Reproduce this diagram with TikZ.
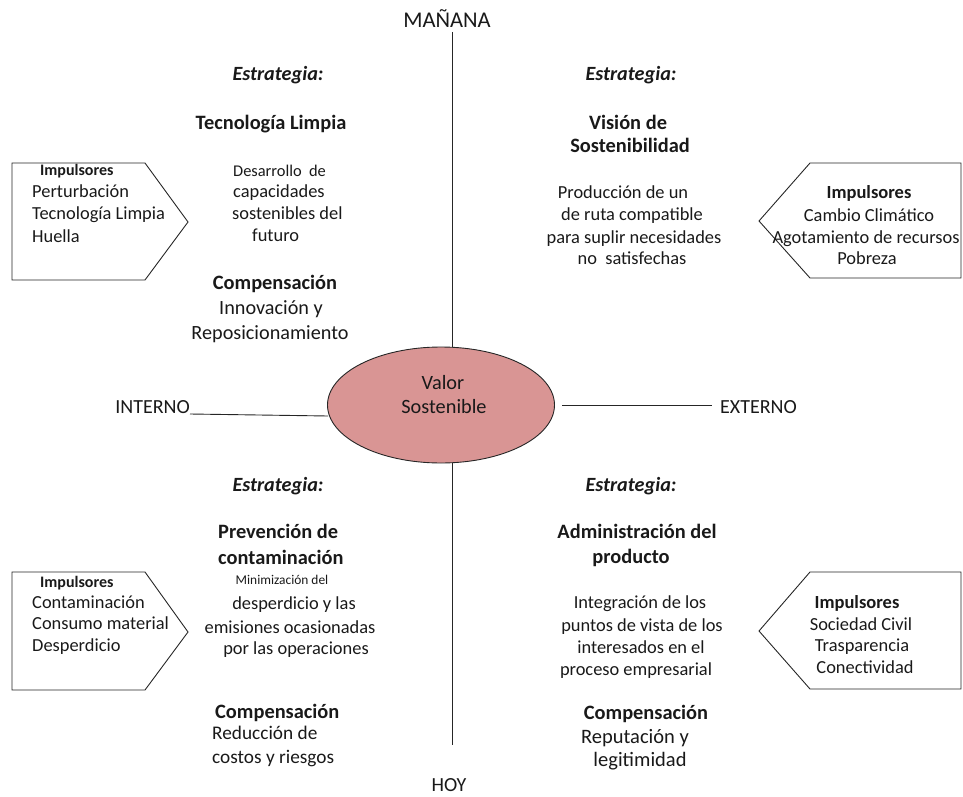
\documentclass[tikz,border=0pt]{standalone}
\usepackage{fontspec}
\setmainfont{Carlito}
\usetikzlibrary{shapes.geometric}
\definecolor{rosa}{HTML}{D99594}
\begin{document}
\begin{tikzpicture}[x=1pt,y=-1pt,
  every node/.style={inner sep=0pt, text=black!90},
  t/.style={anchor=base, yshift=-6pt, font=\fontsize{#1}{#1}\selectfont}, t/.default=18.4,
  tl/.style={t=#1, anchor=base west}, tl/.default=18.4,
  b/.style={anchor=base, yshift=-6pt, font=\fontsize{#1}{#1}\selectfont\bfseries}, b/.default=20.4,
  bl/.style={b=#1, anchor=base west}, bl/.default=20.4,
  est/.style={anchor=base, yshift=-6pt, font=\fontsize{20.2}{20}\selectfont\bfseries\itshape},
  eje/.style={draw=black!85, line width=0.9pt},
  caja/.style={draw=black!85, line width=0.9pt}
]
\useasboundingbox (0,0) rectangle (963,797);

% central value
\node[ellipse, draw=black!85, line width=0.9pt, fill=rosa,
      minimum width=227pt, minimum height=116pt] (valor) at (441,405) {};
\node[t=20.3] (valor1) at (443,383) {Valor};
\node[t=20.3] (valor2) at (444,407) {Sostenible};

% axis labels
\node[t=22.5] (manana) at (447,22) {MAÑANA};
\node[t=20] (hoy) at (449,785) {HOY};
\node[t=20, anchor=base east] (interno) at (190,407) {INTERNO};
\node[t=20, anchor=base west] (externo) at (720,407) {EXTERNO};

% axes
\coordinate (arriba) at (452,32);
\coordinate (abajo) at (452,745);
\coordinate (intA) at (190,414);
\coordinate (intB) at (328,416);
\coordinate (extA) at (562,405);
\coordinate (extB) at (712,405);
\draw[eje] (arriba) -- (arriba |- valor.north);
\draw[eje] (abajo |- valor.south) -- (abajo);
\draw[eje] (intA) -- (intB);
\draw[eje] (extA) -- (extB);

% driver boxes
\draw[caja] (12,163) -- (145,163) -- (188,222) -- (145,280) -- (12,280) -- cycle;
\draw[caja] (12,572) -- (145,572) -- (188,632) -- (145,690) -- (12,690) -- cycle;
\draw[caja] (961,163) -- (810,163) -- (759,221) -- (810,278) -- (961,278) -- cycle;
\draw[caja] (961,572) -- (810,572) -- (759,631) -- (810,689) -- (961,689) -- cycle;

% top left driver list
\node[bl=16] (i1) at (40,169) {Impulsores};
\node[tl] (i1a) at (32,191) {Perturbación};
\node[tl] (i1b) at (32,213) {Tecnología Limpia};
\node[tl] (i1c) at (32,236) {Huella};

% bottom left driver list
\node[bl=16] (i3) at (40,581) {Impulsores};
\node[tl] (i3a) at (32,602) {Contaminación};
\node[tl] (i3b) at (32,623) {Consumo material};
\node[tl] (i3c) at (32,645) {Desperdicio};

% top right driver list
\node[b=18.5] (i2) at (869,192) {Impulsores};
\node[t] (i2a) at (869,215) {Cambio Climático};
\node[t] (i2b) at (866,237) {Agotamiento de recursos};
\node[t] (i2c) at (867,258) {Pobreza};

% bottom right driver list
\node[b=18.5] (i4) at (857,602) {Impulsores};
\node[t] (i4a) at (861,624) {Sociedad Civil};
\node[t] (i4b) at (862,645) {Trasparencia};
\node[t] (i4c) at (865,667) {Conectividad};

% quadrant: clean technology
\node[est] (e1) at (278,75) {Estrategia:};
\node[b] (s1) at (271,124) {Tecnología Limpia};
\node[tl=16.4] (d1a) at (233,170) {Desarrollo\ \ de};
\node[tl] (d1b) at (233,191) {capacidades};
\node[tl] (d1c) at (232,213) {sostenibles del};
\node[tl] (d1d) at (252,235) {futuro};
\node[b] (c1) at (275,283) {Compensación};
\node[t=20.2] (c1a) at (271,308) {Innovación y};
\node[t=20.2] (c1b) at (270,333) {Reposicionamiento};

% quadrant: sustainability vision
\node[est] (e2) at (631,75) {Estrategia:};
\node[b] (s2a) at (628,123) {Visión de};
\node[b] (s2b) at (630,147) {Sostenibilidad};
\node[t] (d2a) at (623,192) {Producción de un};
\node[t] (d2b) at (632,214) {de ruta compatible};
\node[t] (d2c) at (634,237) {para suplir necesidades};
\node[t] (d2d) at (632,258) {no\ \ satisfechas};

% quadrant: pollution prevention
\node[est] (e3) at (278,485) {Estrategia:};
\node[bl] (s3a) at (218,532) {Prevención de};
\node[bl] (s3b) at (218,558) {contaminación};
\node[t=13.4] (d3a) at (282,578) {Minimización del};
\node[t] (d3b) at (294,603) {desperdicio y las};
\node[t] (d3c) at (290,627) {emisiones ocasionadas};
\node[t] (d3d) at (296,648) {por las operaciones};
\node[bl] (c3) at (215,712) {Compensación};
\node[tl=19.3] (c3a) at (212,733) {Reducción de};
\node[tl=19.3] (c3b) at (212,757) {costos y riesgos};

% quadrant: product stewardship
\node[est] (e4) at (631,485) {Estrategia:};
\node[b] (s4a) at (637,532) {Administración del};
\node[b] (s4b) at (631,557) {producto};
\node[t] (d4a) at (640,602) {Integración de los};
\node[t] (d4b) at (642,625) {puntos de vista de los};
\node[t] (d4c) at (641,647) {interesados en el};
\node[t] (d4d) at (636,669) {proceso empresarial};
\node[b] (c4) at (646,713) {Compensación};
\node[t=20.5] (c4a) at (635,737) {Reputación y};
\node[t=20.5] (c4b) at (640,760) {legitimidad};
\end{tikzpicture}
\end{document}
